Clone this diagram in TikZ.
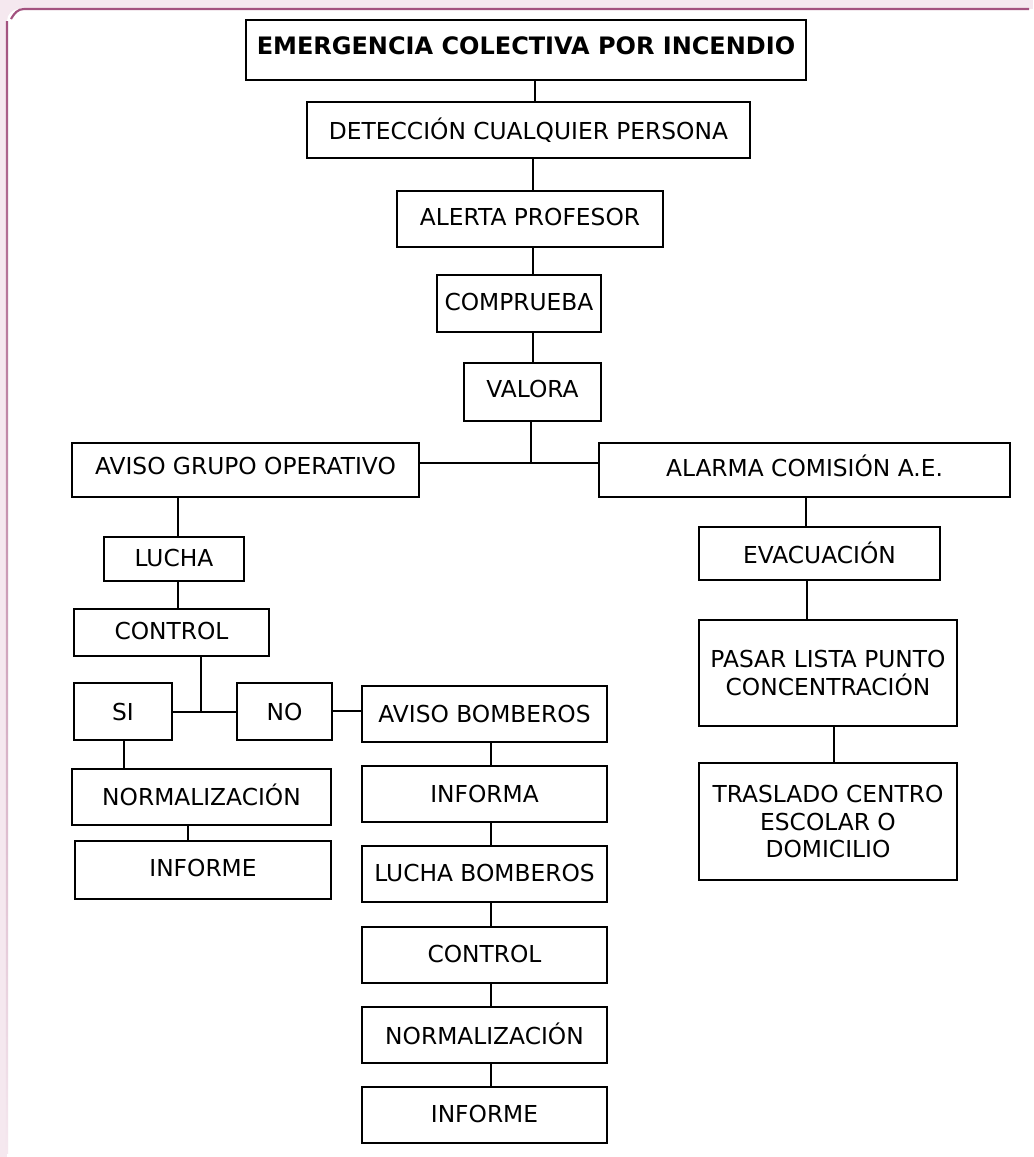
\documentclass[tikz,border=0pt]{standalone}
\usepackage{fontspec}
\setmainfont{DejaVu Sans}
\newlength\pxu \setlength\pxu{0.75pt}
\definecolor{bgpink}{HTML}{F5E8EF}
\definecolor{mag}{HTML}{A3527F}
\tikzset{
  box/.style={draw=black, line width=1.5pt, inner sep=0pt, align=center,
    font=\fontsize{17.5}{20.8}\selectfont},
  conn/.style={draw=black, line width=1.5pt}
}
% name, x1, y1, x2, y2, raise (px), text
\newcommand\bx[7]{%
  \node[box, minimum width={(#4-#2)*0.75pt}, minimum height={(#5-#3)*0.75pt}]
    (#1) at ({(#2+#4)/2},{(#3+#5)/2}) {\raisebox{#6\pxu}{#7}};}
\newcommand\mbx[6]{%
  \node[box, minimum width={(#4-#2)*0.75pt}, minimum height={(#5-#3)*0.75pt}]
    (#1) at ({(#2+#4)/2},{(#3+#5)/2}) {#6};}
\begin{document}
\begin{tikzpicture}[x=0.75pt,y=-0.75pt]
\useasboundingbox (0,0) rectangle (1033,1157);
% page background
\fill[bgpink] (0,0) rectangle (1033,1157);
\fill[white, rounded corners=9pt] (7,9) rectangle (1060,1180);
\draw[mag, line width=1.6pt] (11,19) to[out=60,in=180] (24,9) -- (1029,9);
\shade[top color=mag, bottom color=bgpink] (5.8,21) rectangle (8,1153);

% boxes
\bx{title}{246}{20}{806}{80}{9}{\fontsize{18}{20}\selectfont\bfseries EMERGENCIA COLECTIVA POR INCENDIO}
\bx{det}{307}{102}{750}{158}{1}{DETECCIÓN CUALQUIER PERSONA}
\bx{alerta}{397}{191}{663}{247}{5}{ALERTA PROFESOR}
\bx{compr}{437}{275}{601}{332}{3}{COMPRUEBA}
\bx{valora}{464}{363}{601}{421}{7}{VALORA}
\bx{avisog}{72}{443}{419}{497}{8}{AVISO GRUPO OPERATIVO}
\bx{alarma}{599}{443}{1010}{497}{8}{ALARMA COMISIÓN A.E.}
\bx{lucha}{104}{537}{244}{581}{2}{LUCHA}
\bx{control}{74}{609}{269}{656}{4}{CONTROL}
\bx{si}{74}{683}{172}{740}{0}{SI}
\bx{no}{237}{683}{332}{740}{0}{NO}
\bx{avisob}{362}{686}{607}{742}{0}{AVISO BOMBEROS}
\bx{norml}{72}{769}{331}{825}{4}{NORMALIZACIÓN}
\bx{infl}{75}{841}{331}{899}{4}{INFORME}
\bx{informa}{362}{766}{607}{822}{0}{INFORMA}
\bx{luchab}{362}{846}{607}{902}{3}{LUCHA BOMBEROS}
\bx{controlr}{362}{927}{607}{983}{2}{CONTROL}
\bx{normr}{362}{1007}{607}{1063}{3}{NORMALIZACIÓN}
\bx{infr}{362}{1087}{607}{1143}{2}{INFORME}
\bx{evac}{699}{527}{940}{580}{1}{EVACUACIÓN}
\mbx{pasar}{699}{620}{957}{726}{PASAR LISTA PUNTO\\CONCENTRACIÓN}
\mbx{tras}{699}{763}{957}{880}{TRASLADO CENTRO\\ESCOLAR O\\DOMICILIO}

% connector positions
\coordinate (x1) at (535,0);
\coordinate (x2) at (533,0);
\coordinate (j1) at (531,463);
\coordinate (xl) at (178,0);
\coordinate (j2) at (201,712);
\coordinate (jn) at (0,711);
\coordinate (xs) at (124,0);
\coordinate (xi) at (188,0);
\coordinate (xb) at (491,0);
\coordinate (xa) at (806,0);
\coordinate (xe) at (807,0);
\coordinate (xp) at (834,0);

\draw[conn] (title.south -| x1) -- (det.north -| x1);
\draw[conn] (det.south -| x2) -- (alerta.north -| x2);
\draw[conn] (alerta.south -| x2) -- (compr.north -| x2);
\draw[conn] (compr.south -| x2) -- (valora.north -| x2);
\draw[conn] (valora.south -| j1) -- (j1);
\draw[conn] (avisog.east |- j1) -- (alarma.west |- j1);
\draw[conn] (avisog.south -| xl) -- (lucha.north -| xl);
\draw[conn] (lucha.south -| xl) -- (control.north -| xl);
\draw[conn] (control.south -| j2) -- (j2);
\draw[conn] (si.east |- j2) -- (no.west |- j2);
\draw[conn] (no.east |- jn) -- (avisob.west |- jn);
\draw[conn] (si.south -| xs) -- (norml.north -| xs);
\draw[conn] (norml.south -| xi) -- (infl.north -| xi);
\draw[conn] (avisob.south -| xb) -- (informa.north -| xb);
\draw[conn] (informa.south -| xb) -- (luchab.north -| xb);
\draw[conn] (luchab.south -| xb) -- (controlr.north -| xb);
\draw[conn] (controlr.south -| xb) -- (normr.north -| xb);
\draw[conn] (normr.south -| xb) -- (infr.north -| xb);
\draw[conn] (alarma.south -| xa) -- (evac.north -| xa);
\draw[conn] (evac.south -| xe) -- (pasar.north -| xe);
\draw[conn] (pasar.south -| xp) -- (tras.north -| xp);
\end{tikzpicture}
\end{document}
